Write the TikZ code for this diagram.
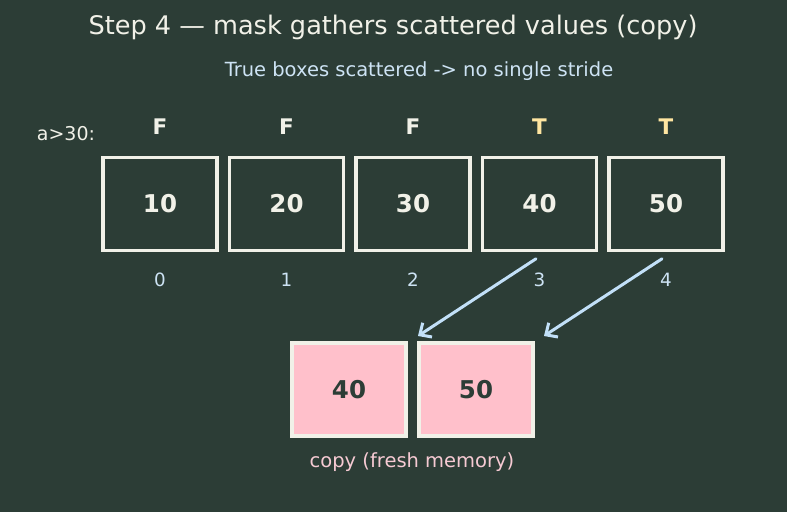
\documentclass[tikz,border=0pt]{standalone}
\usepackage{fontspec}
\setmainfont{DejaVu Sans}
\usetikzlibrary{arrows.meta,calc}
\definecolor{bgdark}{HTML}{2C3D36}
\definecolor{boxline}{HTML}{F1F1E8}
\definecolor{maskyes}{HTML}{FFE6A1}
\definecolor{idxblue}{HTML}{CDE3F4}
\definecolor{arrblue}{HTML}{C2E0F8}
\definecolor{copypink}{HTML}{FFC0CB}
\definecolor{captpink}{HTML}{F6CAD3}
\tikzset{
    %cells of the original array
    cell/.style={draw=boxline, line width=3.5pt, minimum width=114pt, minimum height=93pt,
        inner sep=0pt, text=boxline, font=\bfseries\fontsize{24.5}{29}\selectfont},
    %cells of the gathered copy
    copycell/.style={cell, fill=copypink, text=bgdark},
    flag/.style={font=\bfseries\fontsize{21.5}{25}\selectfont, text=boxline},
    idx/.style={font=\fontsize{18.3}{22}\selectfont, text=idxblue},
    gather/.style={draw=arrblue, line width=3pt, line cap=round,
        -{Straight Barb[length=9pt,width=17pt,line width=3pt]}}
}
\begin{document}
\begin{tikzpicture}[x=1pt,y=-1pt]
    \fill[bgdark] (0,0) rectangle (787,512);
    \useasboundingbox (0,0) rectangle (787,512);

    \node[text=boxline, font=\fontsize{25.6}{30}\selectfont] (title) at (393,27) {Step 4 — mask gathers scattered values (copy)};
    \node[text=idxblue, font=\fontsize{19.5}{23}\selectfont] (sub) at (419,71.5) {True boxes scattered -> no single stride};

    \node[text=boxline, font=\fontsize{19}{22}\selectfont] (mask) at (66,134) {a>30:};

    \node[cell] (b0) at (160,204) {10};
    \node[cell] (b1) at (286.5,204) {20};
    \node[cell] (b2) at (413,204) {30};
    \node[cell] (b3) at (539.5,204) {40};
    \node[cell] (b4) at (666,204) {50};

    \node[flag] (f0) at (160,126.5) {F};
    \node[flag] (f1) at (286.5,126.5) {F};
    \node[flag] (f2) at (413,126.5) {F};
    \node[flag, text=maskyes] (f3) at (539.5,126.5) {T};
    \node[flag, text=maskyes] (f4) at (666,126.5) {T};

    \node[idx] (i0) at (160,280) {0};
    \node[idx] (i1) at (286.5,280) {1};
    \node[idx] (i2) at (413,280) {2};
    \node[idx] (i3) at (539.5,280) {3};
    \node[idx] (i4) at (666,280) {4};

    \node[copycell] (c0) at (349,389.5) {40};
    \node[copycell] (c1) at (476,389.5) {50};
    \node[text=captpink, font=\fontsize{19.5}{23}\selectfont] (capt) at (412,462.5) {copy (fresh memory)};

    \coordinate (g0) at (418,336);
    \coordinate (g1) at (544,336);
    \draw[gather] ($(b3.south)+(-3.5,6.5)$) -- (g0);
    \draw[gather] ($(b4.south)+(-4,6.5)$) -- (g1);
\end{tikzpicture}
\end{document}
